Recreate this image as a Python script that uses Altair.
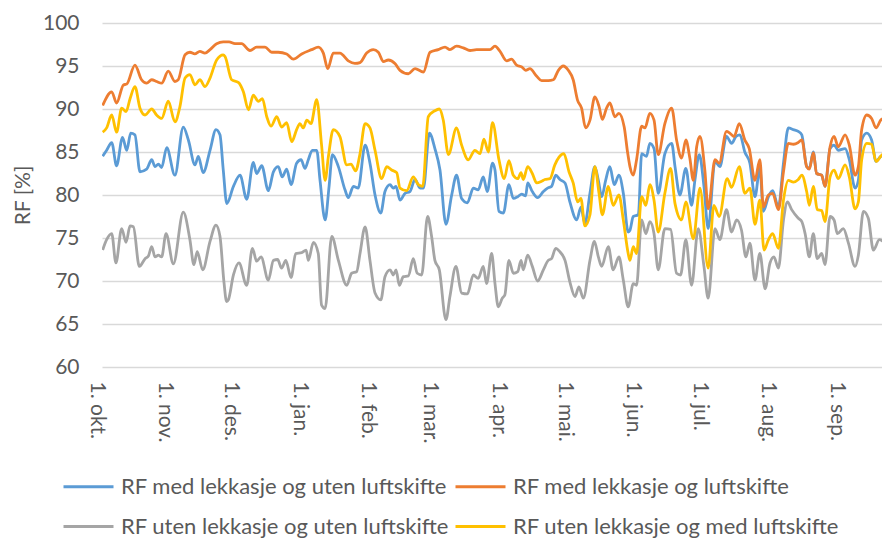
import altair as alt
import pandas as pd

# ---- data (day index from 1. okt.) ----
blue_days = [0.3, 2.1, 4.4, 6.6, 9.3, 11.2, 13.0, 14.9, 17.2, 20.2, 22.5, 24.0, 25.5, 27.0, 29.3, 33.0, 36.8, 39.1, 42.1, 43.6, 45.8, 48.9, 51.6, 53.4, 54.9,
             56.5, 59.5, 62.5, 65.5, 68.5, 70.0, 72.3, 75.3, 77.6, 79.8, 81.6, 83.6, 85.6, 88.1, 90.1, 91.9, 93.4, 95.2, 97.2, 98.7, 101.0, 102.8, 104.3, 107.0, 110.0, 111.5, 113.8, 116.0,
             119.1, 121.3, 123.6, 126.2, 128.1, 130.4, 131.9, 133.1, 134.9, 137.2, 139.4, 141.7, 144.0, 145.5, 148.2, 150.7, 153.0, 155.7, 158.3, 160.5, 162.8, 165.4, 168.1, 170.3, 172.6, 174.4, 176.8,
             177.9, 179.7, 181.7, 184.2, 186.2, 188.2, 190.0, 191.8, 192.7, 194.8, 197.2, 199.8, 201.7, 203.5, 205.4, 207.3, 209.6, 211.8, 214.9, 216.8, 218.6, 220.9, 223.1, 224.7, 226.2, 228.0, 229.9, 231.9, 234.0, 236.0, 238.2,
             239.0, 240.5, 242.8, 244.3, 246.5, 248.0, 249.9, 251.8, 254.8, 257.9, 259.4, 261.6, 264.3, 266.9, 268.4, 270.4, 272.5, 274.4, 277.5, 279.7, 282.7, 285.0, 287.0, 288.8, 291.0, 293.3, 295.6, 297.8,
             299.4, 301.7, 303.6, 306.2, 308.5, 310.7, 313.0, 315.2, 316.8, 319.0, 320.2, 322.0, 323.5, 325.8, 327.3, 329.6, 331.4, 333.3, 336.4, 338.3, 340.9, 342.4, 343.9, 346.2, 348.4, 350.4, 352.5, 354.5, 356.7]
blue_vals = [84.5, 85.2, 86.1, 83.4, 86.7, 85.2, 87.2, 87.0, 82.7, 83.0, 84.1, 83.3, 83.6, 83.2, 85.5, 82.3, 87.9, 86.4, 83.5, 84.5, 82.6, 85.2, 87.6, 87.0, 82.9,
             79.0, 81.0, 82.3, 79.5, 83.8, 82.5, 83.4, 80.5, 82.7, 83.3, 82.1, 83.0, 81.2, 83.7, 84.1, 83.1, 84.1, 85.2, 85.2, 81.7, 77.1, 81.0, 84.7, 83.3, 80.6, 79.7, 81.0, 80.8,
             85.8, 83.7, 80.0, 77.9, 80.4, 81.2, 80.8, 81.0, 79.4, 80.2, 80.4, 81.8, 80.8, 80.8, 87.2, 85.4, 82.9, 76.6, 80.0, 82.3, 79.6, 79.1, 80.8, 80.6, 82.1, 80.4, 83.7,
             82.9, 78.1, 77.9, 81.2, 79.6, 79.8, 80.1, 79.9, 81.4, 80.4, 79.7, 80.4, 80.8, 81.0, 82.3, 81.8, 81.4, 79.2, 77.1, 78.6, 76.7, 80.2, 83.3, 81.7, 79.8, 81.7, 83.3, 81.2, 82.3, 80.2, 75.7,
             75.9, 77.5, 77.7, 84.8, 84.5, 86.0, 85.4, 80.2, 84.8, 86.0, 83.3, 80.0, 83.1, 78.8, 81.7, 84.7, 81.0, 76.1, 83.9, 83.3, 86.8, 86.0, 86.8, 87.0, 85.0, 83.7, 79.8, 83.1,
             78.1, 79.8, 80.5, 78.6, 83.7, 87.8, 87.6, 87.4, 87.0, 83.3, 83.1, 85.0, 82.5, 82.3, 81.0, 85.4, 85.8, 85.2, 85.4, 84.1, 80.8, 81.7, 86.4, 87.2, 86.4, 83.9, 84.5, 84.7, 85.2]

orange_days = [0.3, 4.4, 6.6, 9.7, 11.2, 14.9, 17.9, 20.2, 22.5, 24.7, 27.0, 30.0, 33.0, 34.5, 37.6, 39.8, 42.0, 44.3, 46.6, 48.9, 51.9, 54.9,
               57.5, 60.2, 63.2, 67.0, 70.0, 73.8, 76.8, 79.8, 83.6, 86.6, 90.4, 94.9, 97.9, 100.2, 102.2, 104.7, 107.7, 111.5, 114.5,
               116.8, 119.8, 122.8, 125.1, 127.4, 129.6, 132.6, 134.9, 138.7, 141.7, 145.5, 148.5, 152.2, 155.3, 157.5, 160.5, 163.6, 166.6, 169.6, 172.6, 175.6,
               177.9, 180.2, 183.2, 185.4, 187.7, 190.0, 191.8, 193.7, 196.8, 199.0, 202.0, 204.3, 206.6, 208.8, 211.1, 213.3, 215.3, 217.1, 218.9, 220.9, 223.1, 225.0, 226.5, 228.4, 229.9, 232.2, 234.0, 236.4, 237.9,
               239.0, 240.5, 242.0, 244.3, 245.8, 248.0, 249.9, 251.8, 254.8, 257.9, 260.1, 262.4, 264.3, 266.1, 267.7, 269.2, 270.7, 272.9, 274.4, 277.5, 279.4, 282.7, 284.2, 286.1, 288.5, 291.0, 293.0, 295.6, 297.8,
               299.4, 301.7, 303.6, 306.2, 308.5, 310.7, 313.0, 315.2, 316.8, 319.0, 320.2, 322.0, 323.5, 325.8, 327.3, 329.6, 331.4, 333.3, 336.4, 338.3, 340.9, 342.4, 343.9, 346.2, 348.4, 350.4, 352.5, 354.5, 356.7]
orange_vals = [90.4, 92.0, 90.7, 92.8, 92.9, 95.1, 93.4, 93.0, 93.4, 93.2, 93.0, 94.4, 93.2, 93.4, 96.3, 96.6, 96.4, 96.7, 96.5, 96.9, 97.6, 97.8,
               97.8, 97.6, 97.6, 96.8, 97.2, 97.2, 96.6, 96.6, 96.4, 95.8, 96.4, 96.9, 97.2, 96.5, 94.7, 96.5, 96.5, 95.6, 95.3,
               95.4, 96.5, 96.9, 96.6, 95.5, 95.7, 95.3, 94.5, 94.1, 94.7, 94.3, 96.6, 96.9, 97.2, 96.9, 97.3, 97.1, 96.8, 96.9, 96.9, 96.9,
               97.3, 96.7, 95.6, 95.8, 95.1, 94.9, 94.5, 94.7, 93.8, 93.3, 93.3, 93.4, 94.5, 95.0, 94.5, 93.4, 91.0, 90.1, 87.8, 88.7, 91.4, 90.3, 88.8, 90.1, 90.7, 89.1, 89.5, 87.9, 85.0,
               83.3, 82.3, 84.1, 88.0, 87.8, 89.5, 88.7, 84.7, 88.3, 90.1, 86.4, 84.3, 86.4, 84.3, 81.7, 85.6, 86.8, 82.9, 78.4, 84.1, 83.7, 87.4, 87.2, 86.8, 88.3, 86.4, 85.4, 81.7, 84.1,
               78.6, 80.0, 80.2, 78.3, 82.7, 86.0, 85.9, 86.1, 86.4, 83.3, 83.0, 84.9, 82.5, 82.3, 81.0, 85.6, 86.8, 85.6, 87.0, 85.8, 82.3, 83.3, 87.6, 89.3, 88.9, 87.8, 88.7, 89.1, 90.5]

gray_days = [0.3, 2.1, 4.4, 6.3, 8.9, 10.9, 12.7, 14.2, 16.9, 19.5, 21.0, 22.5, 24.0, 25.5, 27.0, 29.0, 32.3, 36.8, 39.8, 41.6, 43.1, 45.6, 48.9, 51.6, 53.4, 55.2,
             56.4, 57.2, 59.5, 62.0, 65.5, 68.1, 70.0, 72.0, 75.3, 77.6, 79.5, 81.3, 83.2, 85.6, 87.7, 90.4, 92.4, 93.4, 95.7, 97.9, 99.4, 101.0, 104.0, 107.0, 110.8, 113.0, 115.3,
             116.8, 119.1, 121.3, 123.6, 126.2, 128.1, 130.4, 131.9, 133.1, 134.6, 136.4, 138.7, 140.9, 142.7, 144.7, 147.4, 149.2, 150.7, 152.7, 155.7, 157.5, 160.2, 162.8, 165.4, 168.1, 170.3, 172.6, 174.1, 176.4,
             177.9, 179.4, 181.2, 182.4, 184.2, 186.2, 188.2, 189.7, 190.7, 192.7, 194.8, 197.2, 199.8, 202.0, 203.5, 205.4, 207.3, 209.6, 211.8, 214.1, 215.9, 217.9, 220.9, 222.9, 224.7, 226.2, 229.2, 231.4, 234.0, 236.0, 238.2,
             240.5, 242.0, 244.3, 246.2, 248.0, 249.9, 251.8, 254.8, 257.4, 260.1, 261.9, 264.3, 266.9, 269.9, 272.5, 274.4, 277.5, 279.7, 282.7, 285.0, 287.3, 289.5, 291.5, 293.3, 295.6, 297.8,
             300.2, 302.4, 304.2, 306.2, 308.5, 310.3, 312.2, 315.2, 316.8, 318.3, 320.2, 322.0, 323.8, 325.8, 327.3, 329.6, 331.4, 332.9, 335.6, 337.9, 340.9, 342.4, 344.7, 346.9, 349.2, 351.9, 353.7, 356.0, 356.7]
gray_vals = [73.6, 74.8, 75.5, 72.1, 76.1, 74.5, 76.4, 76.3, 71.7, 72.6, 72.9, 74.0, 72.8, 73.0, 72.8, 75.5, 72.0, 78.0, 74.8, 71.9, 73.4, 71.3, 74.6, 76.5, 75.2, 69.9,
             67.6, 67.8, 70.7, 72.1, 69.5, 73.8, 72.3, 72.8, 70.1, 72.4, 72.5, 71.5, 72.4, 70.4, 73.2, 73.3, 73.6, 72.4, 74.5, 73.2, 67.2, 66.8, 75.2, 72.4, 69.5, 70.9, 71.1,
             73.2, 76.3, 72.4, 68.6, 67.8, 70.5, 71.3, 70.7, 71.3, 69.5, 70.5, 70.6, 72.6, 70.9, 70.7, 77.5, 75.2, 72.4, 71.3, 65.5, 68.2, 71.7, 68.6, 68.5, 70.7, 70.3, 71.7, 69.7, 73.2,
             69.7, 67.0, 68.0, 68.4, 72.4, 70.9, 71.1, 72.4, 71.3, 73.0, 71.7, 70.0, 71.3, 72.4, 72.6, 73.8, 73.4, 72.4, 69.9, 68.2, 69.3, 68.0, 72.4, 74.6, 72.8, 71.7, 74.0, 71.3, 72.8, 70.1, 67.0,
             69.7, 69.5, 77.1, 75.5, 76.9, 75.5, 71.3, 76.1, 76.0, 70.9, 70.7, 74.8, 69.5, 76.1, 71.7, 68.0, 76.1, 74.8, 78.3, 75.7, 77.1, 75.9, 72.8, 74.4, 70.1, 73.2,
             69.1, 72.1, 72.8, 71.5, 77.1, 79.2, 78.3, 77.3, 76.9, 75.5, 72.8, 75.5, 72.6, 73.2, 71.9, 77.5, 77.1, 75.5, 76.1, 74.4, 71.7, 73.0, 78.1, 77.3, 73.6, 74.8, 74.6, 74.2, 74.6]

yellow_days = [0.3, 2.1, 4.4, 6.6, 8.9, 10.9, 12.7, 14.9, 17.2, 19.5, 22.5, 24.7, 27.0, 30.0, 33.0, 35.3, 37.6, 39.8, 42.1, 44.3, 46.6, 48.9, 51.9, 54.9,
               55.7, 58.7, 61.7, 64.0, 66.3, 68.5, 70.8, 72.6, 74.6, 76.5, 79.1, 81.3, 83.6, 85.9, 88.1, 89.6, 91.1, 92.7, 94.6, 97.2, 99.4, 101.0, 102.5, 104.7, 107.7, 110.8, 112.7, 114.8,
               116.8, 119.1, 121.3, 123.6, 126.6, 128.9, 131.1, 133.4, 134.9, 137.9, 140.9, 143.2, 145.2, 147.7, 150.7, 152.7, 154.5, 156.8, 160.5, 162.8, 165.8, 168.8, 171.1, 172.9, 174.9, 176.8,
               179.7, 182.1, 184.2, 186.2, 188.2, 189.7, 190.7, 192.7, 194.8, 196.8, 199.0, 200.5, 202.8, 205.0, 206.9, 209.1, 211.4, 213.3, 215.3, 216.8, 218.6, 220.9, 223.1, 225.0, 226.5, 229.2, 231.4, 234.0, 236.0, 238.2,
               239.0, 240.5, 242.0, 244.3, 246.2, 248.0, 249.9, 251.8, 254.8, 257.4, 259.4, 262.4, 264.3, 267.7, 270.7, 274.4, 277.0, 279.4, 283.0, 285.0, 288.5, 291.0, 293.3, 295.6, 297.8,
               299.7, 301.7, 303.6, 306.2, 308.5, 310.7, 313.0, 315.2, 316.8, 319.0, 320.2, 322.0, 323.8, 325.8, 327.3, 329.6, 331.4, 333.3, 336.4, 338.3, 340.9, 342.4, 343.9, 346.2, 348.4, 350.4, 352.5, 354.5, 356.7]
yellow_vals = [87.3, 87.8, 89.3, 87.3, 90.1, 89.7, 91.2, 92.6, 90.1, 89.3, 90.0, 89.3, 88.9, 90.9, 88.5, 90.3, 93.6, 94.0, 92.8, 93.4, 92.6, 93.6, 95.7, 96.3,
               96.1, 93.4, 93.1, 92.0, 89.9, 91.6, 90.9, 91.2, 89.1, 88.0, 89.1, 87.9, 88.4, 86.2, 87.6, 88.3, 87.8, 88.7, 88.3, 91.1, 85.8, 81.7, 84.5, 87.6, 86.8, 83.5, 83.6, 82.8,
               84.8, 88.3, 87.8, 85.2, 81.9, 83.3, 82.9, 82.6, 80.8, 80.5, 82.1, 81.2, 81.0, 89.1, 89.8, 90.0, 88.7, 84.7, 87.8, 85.8, 84.1, 85.2, 84.8, 86.5, 85.0, 88.4,
               84.1, 81.9, 84.0, 82.3, 81.9, 82.6, 81.8, 83.3, 82.5, 81.4, 81.6, 81.8, 81.9, 83.5, 84.4, 84.8, 82.7, 81.4, 79.2, 79.6, 76.4, 77.7, 83.3, 80.2, 77.7, 81.0, 78.8, 80.0, 77.1, 73.2,
               72.4, 74.0, 73.2, 79.8, 78.8, 81.2, 79.4, 75.7, 80.2, 83.1, 79.0, 77.1, 79.2, 74.9, 80.8, 71.5, 78.8, 77.5, 81.9, 80.9, 83.3, 80.2, 80.8, 76.6, 79.4,
               73.6, 74.8, 75.5, 73.8, 79.4, 81.7, 81.5, 81.8, 82.3, 80.4, 78.8, 81.0, 78.3, 78.2, 76.9, 82.1, 82.9, 81.9, 83.5, 82.1, 78.4, 79.2, 84.1, 86.0, 85.9, 83.9, 84.5, 85.2, 87.8]

series_names = ["RF med lekkasje og uten luftskifte", "RF med lekkasje og luftskifte",
                "RF uten lekkasje og uten luftskifte", "RF uten lekkasje og med luftskifte"]
series_colors = ["#5B9BD5", "#ED7D31", "#A5A5A5", "#FFC000"]

tick_days = [0, 31, 61, 92, 123, 151, 182, 212, 243, 273, 304, 335]
tick_labels = ["1. okt.", "1. nov.", "1. des.", "1. jan.", "1. feb.", "1. mar.",
               "1. apr.", "1. mai.", "1. jun.", "1. jul.", "1. aug.", "1. sep."]
y_ticks = [60, 65, 70, 75, 80, 85, 90, 95, 100]

frames = []
for name, d, v in zip(series_names,
                      [blue_days, orange_days, gray_days, yellow_days],
                      [blue_vals, orange_vals, gray_vals, yellow_vals]):
    frames.append(pd.DataFrame({"dag": d, "RF": v, "serie": name}))
df = pd.concat(frames, ignore_index=True)

label_expr = ("[" + ",".join("'" + t + "'" for t in tick_labels) + "][indexof(["
              + ",".join(str(t) for t in tick_days) + "], datum.value)]")

FONT = "Lato"
TXT = "#595959"

chart = alt.Chart(df).mark_line(strokeWidth=2.8, interpolate="monotone", clip=True).encode(
    x=alt.X("dag:Q", scale=alt.Scale(domain=[0, 353.1], nice=False, zero=False),
            axis=alt.Axis(values=tick_days, labelExpr=label_expr, labelAngle=90,
                          labelAlign="left", labelBaseline="middle", labelPadding=14,
                          labelOffset=-6, ticks=False, domain=False, grid=False,
                          labelFontSize=21, labelColor=TXT, labelFont=FONT, title=None,
                          labelOverlap=False)),
    y=alt.Y("RF:Q", scale=alt.Scale(domain=[60, 100], nice=False, zero=False),
            axis=alt.Axis(values=y_ticks, ticks=False, domain=False, grid=True,
                          gridColor="#D9D9D9", gridWidth=1.3, labelFontSize=21,
                          labelColor=TXT, labelFont=FONT, labelPadding=23,
                          title="RF [%]", titleFont=FONT, titleFontSize=21,
                          titleFontWeight="normal", titleColor=TXT, titlePadding=9)),
    color=alt.Color("serie:N", sort=series_names,
                    scale=alt.Scale(domain=series_names, range=series_colors),
                    legend=alt.Legend(orient="none", legendX=-40, legendY=437,
                                      direction="horizontal", columns=2, title=None,
                                      symbolType="stroke", symbolSize=2500,
                                      symbolStrokeWidth=3, labelFontSize=22,
                                      labelFont=FONT, labelColor=TXT, labelLimit=0,
                                      labelOffset=6, columnPadding=0, rowPadding=2)),
    detail="serie:N",
).properties(
    width=780, height=344,
    autosize=alt.AutoSizeParams(type="none"),
    padding={"left": 94, "top": 15, "right": 0, "bottom": 173},
).configure_view(stroke=None)

chart.save("out.html", embed_options={"renderer": "svg", "actions": False})
